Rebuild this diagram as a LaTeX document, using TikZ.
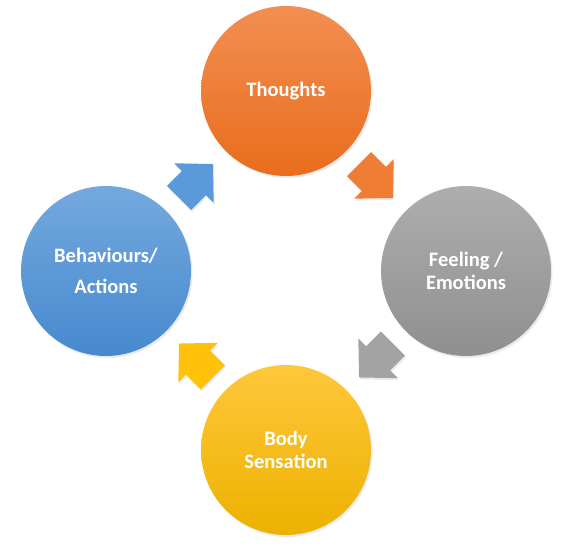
\documentclass[tikz,border=0pt]{standalone}
\usepackage{fontspec}
\setmainfont{Carlito}
\usetikzlibrary{calc,shadows}
\definecolor{thTop}{HTML}{F28E52}
\definecolor{thBot}{HTML}{E96D1C}
\definecolor{feTop}{HTML}{AEAEAE}
\definecolor{feBot}{HTML}{8F8F8F}
\definecolor{boTop}{HTML}{FFC73C}
\definecolor{boBot}{HTML}{EDB100}
\definecolor{beTop}{HTML}{74A9DE}
\definecolor{beBot}{HTML}{4789CF}
\definecolor{thArr}{HTML}{EF7D34}
\definecolor{feArr}{HTML}{A3A3A3}
\definecolor{boArr}{HTML}{FFC10A}
\definecolor{beArr}{HTML}{5A9ADA}
\tikzset{
  stage/.style={circle, minimum size=170bp, inner sep=0pt, text=white, align=center,
    font=\bfseries\fontsize{20.6}{23.5}\selectfont,
    drop shadow={opacity=0.16, shadow xshift=1.5bp, shadow yshift=-2bp}},
  flow/.style={drop shadow={opacity=0.16, shadow xshift=1bp, shadow yshift=-2bp}},
}
% block arrow: fill colour, centre, direction
\newcommand{\cyclearrow}[3]{%
  \begin{scope}[shift={#2}, rotate=#3]
    \fill[#1, flow] (-24,-17) -- (-3,-17) -- (-3,-28) -- (24,0) -- (-3,28)
      -- (-3,17) -- (-24,17) -- cycle;
  \end{scope}}

\begin{document}
\begin{tikzpicture}[x=1bp, y=1bp]
  \useasboundingbox (0,0) rectangle (572,549);
  \node[stage, top color=thTop, bottom color=thBot] (thoughts) at (286,458) {Thoughts};
  \node[stage, top color=feTop, bottom color=feBot] (feel) at (466,278) {Feeling /\\Emotions};
  \node[stage, top color=boTop, bottom color=boBot] (body) at (286,99) {Body\\Sensation};
  \node[stage, top color=beTop, bottom color=beBot] (behav) at (106,278) {Behaviours/\\[8bp]Actions};
  \coordinate (a1) at ($(thoughts)!0.5!(feel)$);
  \coordinate (a2) at ($(feel)!0.5!(body)$);
  \coordinate (a3) at ($(body)!0.5!(behav)$);
  \coordinate (a4) at ($(behav)!0.5!(thoughts)$);
  \cyclearrow{thArr}{(a1)}{-45}
  \cyclearrow{feArr}{(a2)}{-135}
  \cyclearrow{boArr}{(a3)}{135}
  \cyclearrow{beArr}{(a4)}{45}
\end{tikzpicture}
\end{document}
